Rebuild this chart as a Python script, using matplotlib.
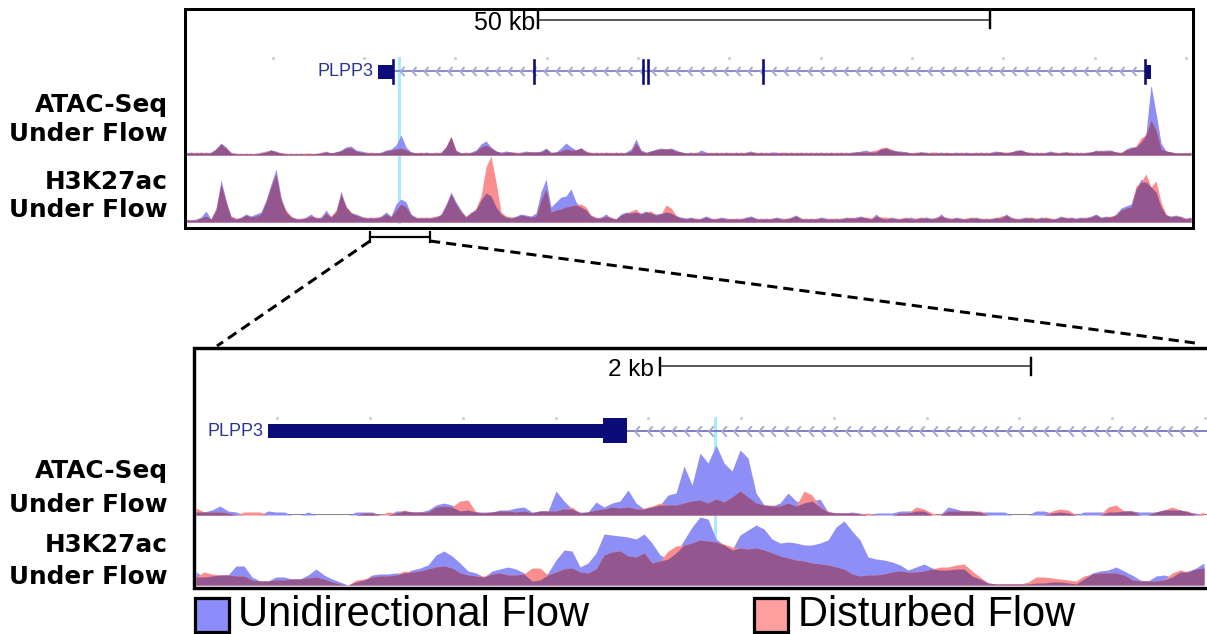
import numpy as np
import matplotlib
matplotlib.use("Agg")
import matplotlib.pyplot as plt
from matplotlib.path import Path
from matplotlib.patches import Rectangle

# ---------------------------------------------------------------------------
# Signal tracks, 50 kb view (one value every TOP_STEP_KB from the window start)
# ---------------------------------------------------------------------------
TOP_STEP_KB = 0.5531
TOP_SPAN_KB = 111.17

top_atac_uni = [
    2, 3, 2, 3, 2, 3, 6, 12, 8, 2,   2, 1, 2, 1, 2, 2, 3, 5, 4, 2,
    1, 2, 1, 2, 1, 1, 2, 2, 4, 2,    3, 5, 8, 9, 5, 4, 3, 2, 2, 3,
    5, 6, 10, 20, 8, 3, 2, 2, 3, 2,  2, 3, 8, 18, 5, 2, 2, 3, 5, 11,
    14, 8, 4, 3, 4, 3, 2, 3, 4, 3,   3, 4, 7, 3, 3, 7, 12, 8, 5, 7,
    4, 2, 3, 2, 3, 2, 3, 2, 3, 6,    16, 5, 3, 4, 6, 7, 6, 7, 5, 3,
    2, 3, 2, 5, 3, 2, 3, 2, 3, 2,    3, 2, 3, 4, 2, 3, 2, 3, 3, 2,
    2, 3, 2, 3, 2, 3, 2, 3, 2, 3,    2, 3, 2, 3, 3, 4, 5, 3, 3, 6,
    7, 5, 4, 4, 3, 2, 2, 3, 3, 2,    2, 3, 2, 2, 3, 2, 3, 2, 2, 3,
    2, 3, 4, 3, 2, 3, 5, 5, 3, 2,    3, 2, 3, 4, 2, 3, 3, 2, 3, 2,
    3, 3, 5, 4, 5, 5, 3, 2, 6, 8,    8, 13, 22, 70, 42, 12, 4, 3, 2, 2,
    2, 2,
]
top_atac_dist = [
    3, 2, 3, 2, 3, 2, 6, 11, 7, 3,   1, 2, 1, 2, 1, 3, 4, 5, 3, 2,
    2, 1, 2, 1, 2, 2, 1, 3, 3, 2,    3, 4, 7, 7, 4, 3, 2, 3, 2, 2,
    4, 5, 6, 7, 5, 3, 2, 3, 2, 2,    3, 2, 8, 19, 4, 2, 3, 2, 4, 8,
    10, 7, 4, 2, 3, 3, 3, 2, 3, 3,   3, 3, 6, 2, 3, 4, 6, 5, 5, 7,
    3, 3, 2, 3, 2, 3, 2, 3, 2, 4,    12, 4, 2, 4, 5, 6, 6, 6, 4, 3,
    2, 2, 3, 2, 2, 3, 2, 3, 2, 3,    2, 3, 2, 3, 3, 2, 3, 2, 2, 3,
    3, 2, 3, 2, 3, 2, 3, 2, 3, 2,    3, 2, 3, 2, 3, 3, 3, 4, 5, 7,
    8, 6, 4, 3, 3, 2, 3, 3, 2, 3,    3, 2, 3, 2, 2, 3, 2, 2, 3, 2,
    3, 2, 3, 3, 3, 3, 4, 5, 3, 3,    2, 3, 2, 3, 3, 2, 3, 3, 2, 3,
    2, 3, 4, 5, 4, 4, 3, 3, 5, 7,    9, 17, 20, 35, 25, 6, 4, 3, 2, 2,
    2, 3,
]
top_k27_uni = [
    2, 2, 3, 5, 11, 3, 12, 42, 22, 5,   3, 5, 8, 6, 8, 10, 22, 38, 53, 25,
    10, 5, 4, 3, 5, 8, 4, 5, 12, 5,     10, 31, 15, 9, 8, 6, 4, 5, 4, 6,
    10, 6, 18, 23, 20, 8, 5, 4, 5, 4,   5, 8, 18, 30, 20, 12, 5, 10, 12, 22,
    29, 26, 15, 8, 5, 4, 6, 8, 7, 6,    9, 30, 43, 15, 20, 25, 26, 33, 20, 15,
    12, 6, 4, 5, 8, 4, 3, 8, 10, 9,     10, 9, 11, 9, 8, 9, 10, 9, 6, 5,
    4, 5, 3, 4, 6, 4, 3, 5, 4, 3,       4, 3, 5, 6, 4, 3, 4, 3, 5, 4,
    3, 5, 7, 4, 3, 4, 3, 5, 4, 3,       4, 3, 5, 4, 5, 6, 4, 3, 8, 4,
    3, 5, 4, 3, 4, 5, 3, 4, 5, 4,       4, 8, 4, 3, 5, 4, 3, 4, 5, 3,
    4, 3, 5, 4, 8, 5, 3, 4, 5, 4,       3, 5, 4, 3, 4, 6, 4, 5, 4, 5,
    4, 6, 8, 5, 6, 5, 8, 14, 16, 18,    33, 43, 40, 35, 30, 15, 7, 6, 7, 5,
    4, 5,
]
top_k27_dist = [
    3, 2, 2, 4, 6, 3, 14, 38, 20, 6,   4, 4, 7, 5, 6, 8, 20, 35, 48, 22,
    12, 6, 3, 4, 4, 6, 5, 4, 9, 6,     12, 28, 16, 10, 7, 5, 5, 4, 5, 5,
    8, 5, 12, 18, 15, 7, 4, 5, 4, 5,   6, 7, 16, 28, 18, 10, 6, 9, 14, 26,
    55, 66, 40, 10, 6, 5, 5, 7, 6, 5,  6, 22, 33, 10, 12, 13, 15, 16, 17, 18,
    15, 7, 5, 4, 6, 5, 3, 7, 9, 11,    13, 8, 10, 11, 7, 8, 17, 14, 7, 4,
    3, 4, 4, 3, 5, 3, 4, 4, 3, 4,      3, 4, 4, 5, 3, 4, 3, 4, 4, 3,
    4, 4, 6, 3, 4, 3, 4, 4, 3, 4,      3, 4, 4, 5, 4, 5, 5, 4, 6, 5,
    5, 4, 3, 4, 5, 3, 4, 5, 4, 3,      5, 6, 5, 4, 4, 3, 4, 5, 4, 4,
    3, 4, 4, 6, 7, 4, 4, 3, 4, 5,      4, 4, 5, 4, 3, 5, 5, 4, 3, 4,
    5, 5, 7, 4, 5, 6, 7, 12, 14, 15,   36, 40, 48, 35, 41, 20, 8, 5, 6, 6,
    3, 4,
]

# ---------------------------------------------------------------------------
# Signal tracks, 2 kb view
# ---------------------------------------------------------------------------
BOT_START_KB = 0.0108
BOT_STEP_KB = 0.04313
BOT_SPAN_KB = 5.461

bot_atac_uni = [
    3, 3, 5, 9, 4, 3, 0, 0, 0, 4,      3, 3, 0, 0, 3, 0, 0, 0, 0, 0,
    3, 3, 3, 0, 0, 4, 4, 3, 3, 5,      10, 12, 10, 4, 5, 3, 3, 3, 5, 5,
    7, 8, 3, 4, 4, 24, 14, 6, 3, 3,    13, 8, 12, 14, 25, 12, 6, 8, 10, 20,
    22, 49, 30, 62, 52, 70, 52, 44, 65, 57,
    22, 10, 9, 12, 22, 14, 12, 14, 16, 3,
    2, 2, 3, 2, 0, 2, 2, 2, 4, 4,      4, 4, 0, 0, 8, 6, 4, 4, 3, 3,
    3, 3, 0, 0, 0, 4, 4, 2, 3, 2,      0, 3, 3, 3, 3, 3, 4, 4, 3, 3,
    3, 5, 5, 5, 3, 2, 0,
]
bot_atac_dist = [
    7, 3, 3, 3, 2, 0, 3, 3, 3, 0,      0, 0, 0, 0, 0, 0, 0, 0, 0, 0,
    0, 2, 2, 0, 3, 2, 5, 3, 3, 3,      8, 9, 8, 14, 15, 3, 2, 3, 4, 4,
    3, 4, 2, 4, 4, 4, 6, 8, 2, 3,      5, 6, 8, 7, 8, 6, 7, 9, 12, 10,
    10, 12, 14, 15, 12, 16, 13, 18, 24, 18,
    12, 10, 10, 9, 12, 9, 24, 20, 8, 4,
    2, 2, 2, 1, 2, 0, 0, 0, 2, 2,      8, 6, 2, 0, 4, 4, 4, 4, 4, 0,
    0, 0, 0, 0, 0, 0, 0, 4, 6, 5,      0, 0, 0, 0, 8, 10, 4, 4, 0, 0,
    3, 5, 8, 5, 4, 0, 3,
]
bot_k27_uni = [
    13, 8, 9, 10, 10, 19, 19, 8, 4, 4,      8, 8, 6, 6, 10, 16, 10, 6, 3, 0,
    3, 5, 10, 11, 11, 12, 12, 15, 17, 20,   30, 34, 29, 22, 14, 12, 8, 14, 16, 18,
    16, 12, 4, 5, 12, 25, 35, 34, 18, 22,   32, 51, 50, 49, 48, 46, 51, 42, 30, 26,
    32, 45, 58, 68, 66, 46, 40, 35, 50, 55, 60, 56, 46, 42, 43, 42, 40, 40, 42, 45,
    58, 64, 54, 45, 28, 26, 25, 23, 20, 15, 18, 21, 17, 15, 15, 16, 16, 9, 6, 2,
    1, 1, 1, 1, 1, 2, 2, 3, 3, 2,           1, 6, 12, 14, 15, 18, 14, 10, 5, 4,
    9, 10, 8, 13, 14, 17, 22,
]
bot_k27_dist = [
    8, 13, 11, 10, 10, 9, 9, 5, 4, 4,       5, 5, 6, 6, 7, 8, 6, 3, 1, 0,
    5, 6, 8, 9, 9, 10, 14, 13, 14, 16,      18, 19, 17, 12, 10, 9, 9, 11, 12, 10,
    10, 11, 17, 17, 10, 13, 16, 17, 13, 12, 16, 30, 33, 34, 29, 28, 32, 22, 24, 34,
    39, 40, 42, 45, 44, 43, 41, 38, 37, 36, 37, 35, 32, 29, 27, 25, 24, 22, 21, 20,
    18, 16, 11, 9, 10, 10, 11, 13, 14, 13,  13, 14, 16, 18, 18, 20, 21, 14, 8, 2,
    1, 1, 1, 1, 3, 8, 8, 7, 6, 5,           4, 9, 11, 12, 12, 12, 10, 5, 4, 4,
    4, 5, 12, 15, 13, 16, 17,
]

# ---------------------------------------------------------------------------
# Gene model and annotations (kb from each window start)
# ---------------------------------------------------------------------------
gene_name = "PLPP3"
top_first_exon = (21.24, 22.90)
top_exon_marks = [22.90, 38.50, 50.55, 51.11, 63.83]
top_last_exon = (106.08, 106.75)
top_highlight_kb = 23.56
top_scalebar_kb = (38.94, 88.94)
top_scalebar_label = "50 kb"
top_zoom_window_kb = (20.35, 26.99)

bot_cds = (0.399, 2.205)
bot_exon = (2.205, 2.334)
bot_highlight_kb = 2.809
bot_scalebar_kb = (2.512, 4.512)
bot_scalebar_label = "2 kb"

track_labels = [("ATAC-Seq", "Under Flow"), ("H3K27ac", "Under Flow")]
legend_labels = ["Unidirectional Flow", "Disturbed Flow"]

# ---------------------------------------------------------------------------
# Styling
# ---------------------------------------------------------------------------
UNI = "#8e8ef7"
DIST = "#fa8e8e"
BOTH = "#93568f"
LEG_UNI = "#8c8cfc"
LEG_DIST = "#ff9e9e"
NAVY = "#0c0c78"
INTRON = "#7474b8"
CHEVRON = "#a3a3d6"
HIGHLIGHT = "#a6ecfa"
GENE_TEXT = "#2a3590"

W, H = 1207, 634
fig = plt.figure(figsize=(W / 100, H / 100), dpi=100)
PX = 72 / 100  # points per pixel


def rect(x0, y0, x1, y1):
    return [x0 / W, 1 - y1 / H, (x1 - x0) / W, (y1 - y0) / H]


def draw_track(ax, x, uni, dist):
    uni = np.asarray(uni, float)
    dist = np.asarray(dist, float)
    ax.fill_between(x, 0, uni, color=UNI, lw=0)
    ax.fill_between(x, 0, dist, color=DIST, lw=0)
    ax.fill_between(x, 0, np.minimum(uni, dist), color=BOTH, lw=0)


chevron = Path([(0.45, 1.0), (-0.45, 0.0), (0.45, -1.0)],
               [Path.MOVETO, Path.LINETO, Path.LINETO])


def chevrons(ax, x0, x1, step, y, size):
    xs = np.arange(x0, x1, step)
    ax.plot(xs, np.full_like(xs, y), ls="none", marker=chevron,
            ms=size, mfc="none", mec=CHEVRON, mew=1.3, zorder=2)


def scalebar(ax, xa, xb, y, label, fs, text_dx):
    ax.plot([xa, xb], [y, y], color="#333333", lw=1.6 * PX)
    for xe in (xa, xb):
        ax.plot([xe, xe], [y - 8, y + 8.5], color="black", lw=2.4 * PX)
    ax.text(xa - text_dx, y + 4, label, ha="right", va="center",
            fontsize=fs, family="Liberation Sans", color="black")


# ---------------------------- 50 kb panel ----------------------------------
ax_t = fig.add_axes(rect(186, 10, 1191, 226))
ax_t.set_xlim(0, TOP_SPAN_KB)
ax_t.set_ylim(226, 10)
ax_t.axis("off")

scalebar(ax_t, *top_scalebar_kb, 19.5, top_scalebar_label, 18, 0.35)

ruler = np.arange(-0.5, TOP_SPAN_KB, 10.1)
ax_t.plot(ruler, np.full_like(ruler, 58), ls="none", marker="s", ms=1.0,
          color="#cccccc")

ax_t.plot([top_first_exon[1], top_last_exon[0]], [71, 71], color=INTRON,
          lw=1.6 * PX, zorder=2)
chevrons(ax_t, top_first_exon[1] + 1.0, top_last_exon[0] - 0.4, 1.327, 71, 6.5)
ax_t.add_patch(Rectangle((top_first_exon[0], 64.5),
                         top_first_exon[1] - top_first_exon[0], 14,
                         color=NAVY, lw=0, zorder=3))
ax_t.add_patch(Rectangle((top_last_exon[0], 64.5),
                         top_last_exon[1] - top_last_exon[0], 14,
                         color=NAVY, lw=0, zorder=3))
for xe in top_exon_marks + [top_last_exon[0]]:
    ax_t.plot([xe, xe], [60, 83], color=NAVY, lw=2.6 * PX, zorder=3)
ax_t.text(top_first_exon[0] - 0.55, 71.5, gene_name, ha="right", va="center",
          fontsize=13, family="Liberation Sans", color=GENE_TEXT)

ax_t.plot([top_highlight_kb, top_highlight_kb], [58, 222], color=HIGHLIGHT,
          lw=3 * PX, zorder=1)

x_top = np.arange(len(top_atac_uni)) * TOP_STEP_KB

ax = fig.add_axes(rect(186, 85, 1191, 155))
ax.set_xlim(0, TOP_SPAN_KB)
ax.set_ylim(0, 70)
ax.axis("off")
draw_track(ax, x_top, top_atac_uni, top_atac_dist)
ax.axhline(0.3, color="#555555", lw=1.4 * PX)

ax = fig.add_axes(rect(186, 150, 1191, 222))
ax.set_xlim(0, TOP_SPAN_KB)
ax.set_ylim(0, 72)
ax.axis("off")
draw_track(ax, x_top, top_k27_uni, top_k27_dist)

# ---------------------------- 2 kb panel -----------------------------------
ax_b = fig.add_axes(rect(194, 350, 1207, 586))
ax_b.set_xlim(0, BOT_SPAN_KB)
ax_b.set_ylim(586, 350)
ax_b.axis("off")

scalebar(ax_b, *bot_scalebar_kb, 366, bot_scalebar_label, 17.5, 0.035)

ruler = np.arange(0.45, BOT_SPAN_KB, 0.5)
ax_b.plot(ruler, np.full_like(ruler, 418), ls="none", marker="s", ms=1.0,
          color="#cccccc")

ax_b.plot([bot_exon[1], BOT_SPAN_KB + 0.1], [431, 431], color=INTRON,
          lw=1.8 * PX, zorder=2)
chevrons(ax_b, bot_exon[1] + 0.055, BOT_SPAN_KB, 0.0668, 431, 7.5)
ax_b.add_patch(Rectangle((bot_cds[0], 424), bot_cds[1] - bot_cds[0], 13.5,
                         color=NAVY, lw=0, zorder=3))
ax_b.add_patch(Rectangle((bot_exon[0], 418), bot_exon[1] - bot_exon[0], 25,
                         color=NAVY, lw=0, zorder=3))
ax_b.text(bot_cds[0] - 0.027, 431.5, gene_name, ha="right", va="center",
          fontsize=13, family="Liberation Sans", color=GENE_TEXT)

ax_b.plot([bot_highlight_kb, bot_highlight_kb], [418, 545], color=HIGHLIGHT,
          lw=3 * PX, zorder=1)

x_bot = BOT_START_KB + np.arange(len(bot_atac_uni)) * BOT_STEP_KB

ax = fig.add_axes(rect(194, 440, 1207, 515))
ax.set_xlim(0, BOT_SPAN_KB)
ax.set_ylim(0, 75)
ax.axis("off")
ax.axhline(0.2, color="#666666", lw=1.6 * PX, zorder=0)
draw_track(ax, x_bot, bot_atac_uni, bot_atac_dist)

ax = fig.add_axes(rect(194, 512, 1207, 585))
ax.set_xlim(0, BOT_SPAN_KB)
ax.set_ylim(0, 73)
ax.axis("off")
draw_track(ax, x_bot, bot_k27_uni, bot_k27_dist)

# ----------------------- frames, zoom guides, labels ------------------------
ov = fig.add_axes([0, 0, 1, 1])
ov.set_xlim(0, W)
ov.set_ylim(H, 0)
ov.axis("off")

ov.add_patch(Rectangle((184.5, 8.5), 1192.5 - 184.5, 227.5 - 8.5,
                       fill=False, ec="black", lw=3 * PX))
ov.plot([1212, 193.5, 193.5, 1212], [347.5, 347.5, 587.5, 587.5],
        color="black", lw=3.4 * PX, solid_joinstyle="miter")

# bracket marking the zoomed window on the 50 kb panel
top_px_per_kb = (1191 - 186) / TOP_SPAN_KB
zx0 = 186 + top_zoom_window_kb[0] * top_px_per_kb
zx1 = 186 + top_zoom_window_kb[1] * top_px_per_kb
ov.plot([zx0, zx1], [237, 237], color="black", lw=2.2 * PX)
for xe in (zx0, zx1):
    ov.plot([xe, xe], [232, 242], color="black", lw=2.2 * PX)
ov.plot([zx0, 217], [241, 346], color="black", lw=3 * PX,
        dashes=(3.4, 2.0))
ov.plot([zx1, 1195], [241, 343], color="black", lw=3 * PX,
        dashes=(3.4, 2.0))

label_kw = dict(ha="right", va="baseline", fontsize=17.8, fontweight="bold",
                family="DejaVu Sans", color="black")
for (l1, l2), (b1, b2) in zip(track_labels, [(112, 141), (189, 217)]):
    ov.text(168, b1, l1, **label_kw)
    ov.text(168, b2, l2, **label_kw)
for (l1, l2), (b1, b2) in zip(track_labels, [(478, 512), (552, 584)]):
    ov.text(168, b1, l1, **label_kw)
    ov.text(168, b2, l2, **label_kw)

# legend
for (x0, color, text) in [(194.5, LEG_UNI, legend_labels[0]),
                          (753.5, LEG_DIST, legend_labels[1])]:
    ov.add_patch(Rectangle((x0, 597.5), 34, 34, fc=color, ec="black",
                           lw=3.2 * PX))
    ov.text(x0 + 44, 614.5, text, ha="left", va="center", fontsize=30,
            family="Liberation Sans", color="black")

fig.savefig("out.png", dpi=100)
